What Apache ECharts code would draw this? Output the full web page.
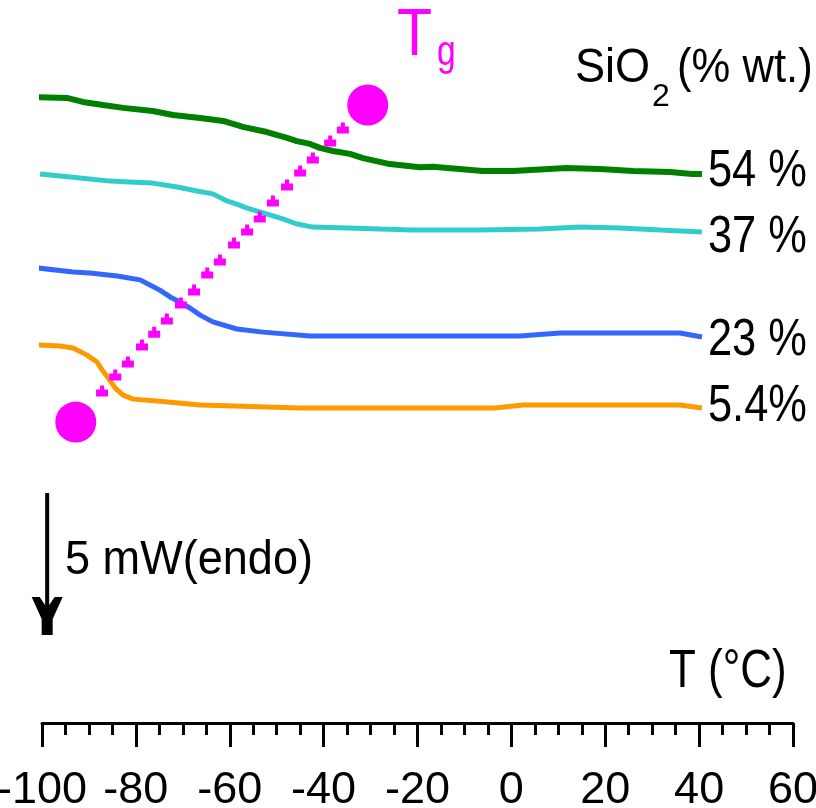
<!DOCTYPE html>
<html>
<head>
<meta charset="utf-8">
<script src="https://cdn.jsdelivr.net/npm/echarts@6/dist/echarts.min.js"></script>
<style>
html,body{margin:0;padding:0;background:#fff;}
#chart{width:816px;height:808px;}
</style>
</head>
<body>
<div id="chart"></div>
<script>
// ---- Data (T in °C, heat flow in mW, arbitrary vertical offsets) ----
const traceNames = ['54 %', '37 %', '23 %', '5.4%'];

const tGreen = [-101.1,-94.7,-91.3,-87.0,-82.7,-76.4,-72.1,-66.3,-61.4,-57.2,-52.1,-47.8,-45.7,-42.9,-40.8,-38.0,-34.4,-31.6,-25.9,-19.5,-16.7,-6.1,0.3,11.8,18.9,25.9,33.8,38.5,40.6];
const hGreen = [22.05,22.02,21.88,21.77,21.67,21.56,21.42,21.31,21.21,21.00,20.82,20.61,20.50,20.40,20.26,20.15,20.05,19.90,19.69,19.58,19.60,19.45,19.45,19.55,19.52,19.45,19.41,19.34,19.34];

const tCyan = [-100.4,-93.4,-85.5,-81.3,-76.4,-71.2,-67.0,-63.6,-60.6,-58.5,-56.3,-52.9,-48.7,-45.7,-42.3,-35.0,-28.0,-21.0,-6.7,6.1,14.6,23.1,31.7,40.6];
const hCyan = [19.34,19.23,19.09,19.06,19.02,18.88,18.74,18.64,18.39,18.28,18.14,17.97,17.76,17.58,17.47,17.44,17.40,17.37,17.37,17.40,17.47,17.44,17.37,17.30];

const tBlue = [-100.9,-93.4,-89.8,-84.0,-79.1,-77.0,-74.9,-72.7,-70.6,-68.5,-66.3,-63.6,-58.5,-52.9,-42.9,-23.7,-8.8,1.8,10.4,23.1,35.9,40.6];
const hBlue = [16.03,15.89,15.85,15.75,15.61,15.43,15.25,15.01,14.83,14.62,14.37,14.13,13.88,13.77,13.63,13.63,13.63,13.63,13.74,13.74,13.74,13.60];

const tOrange = [-100.9,-96.2,-93.4,-90.4,-88.3,-87.2,-85.9,-84.4,-82.7,-80.6,-75.5,-66.3,-52.1,-45.0,-23.7,-3.5,2.5,18.9,35.9,40.6];
const hOrange = [13.32,13.28,13.21,12.96,12.72,12.44,12.15,11.80,11.55,11.41,11.34,11.20,11.13,11.10,11.10,11.10,11.20,11.20,11.20,11.10];

// Tg construction line (dotted markers) and end dots
const tTgLine = [-87.2,-84.4,-81.7,-78.7,-76.1,-73.4,-70.4,-67.6,-64.8,-62.1,-59.1,-56.3,-53.6,-50.8,-47.8,-45.0,-42.3,-38.6,-35.9];
const hTgLine = [11.70,12.26,12.72,13.32,13.77,14.23,14.80,15.25,15.85,16.31,16.91,17.37,17.83,18.39,18.95,19.45,19.90,20.50,20.96];
const tTgDots = [-92.8,-30.6];
const hTgDots = [10.60,21.77];

// 5 mW scale arrow
const arrowT = -98.9;
const arrowTop = 8.1, arrowBottom = 3.1;

// Axis
const xMin = -100, xMax = 60, xStep = 20;
const yMin = 0, yMax = 25.4;

const zip = (a, b) => a.map((v, i) => [v, b[i]]);

const FONT = "'Liberation Sans', Arial, sans-serif";

const traces = [
  { name: traceNames[0], t: tGreen, h: hGreen, color: '#007f00', width: 6, dy: -2 },
  { name: traceNames[1], t: tCyan, h: hCyan, color: '#33cccc', width: 5, dy: 6 },
  { name: traceNames[2], t: tBlue, h: hBlue, color: '#3366ff', width: 5, dy: 4 },
  { name: traceNames[3], t: tOrange, h: hOrange, color: '#ff9900', width: 5, dy: -1 }
];

function txt(id, text, x, y, size, color, sx) {
  return { type: 'text', id: id, x: x, y: y, scaleX: sx, z: 10, silent: true,
    style: { text: text, x: 0, y: 0, align: 'left', textAlign: 'left',
      verticalAlign: 'middle', textVerticalAlign: 'middle',
      font: size + 'px ' + FONT, fill: color } };
}

const chart = echarts.init(document.getElementById('chart'), null, { renderer: 'canvas' });
chart.setOption({
  animation: false,
  backgroundColor: '#fff',
  grid: { left: 42, right: 23, top: 2, bottom: 85, containLabel: false, outerBoundsMode: 'none' },
  xAxis: {
    type: 'value', min: xMin, max: xMax, interval: xStep,
    axisLine: { show: true, onZero: false, lineStyle: { color: '#000', width: 3 } },
    axisTick: { show: true, length: 24, lineStyle: { color: '#000', width: 3 } },
    minorTick: { show: true, splitNumber: 4, length: 12, lineStyle: { color: '#000', width: 3 } },
    splitLine: { show: false },
    axisLabel: { color: '#000', fontSize: 45, fontFamily: FONT, margin: 45 }
  },
  yAxis: { type: 'value', min: yMin, max: yMax, show: false },
  graphic: [
    txt('tT', 'T', 397, 37, 66, '#ff00ff', 0.87),
    txt('tg', 'g', 437, 53, 42, '#ff00ff', 0.8),
    txt('s1', 'SiO', 575, 68, 49, '#000', 0.92),
    txt('s2', '2', 652, 97, 32, '#000', 1),
    txt('s3', '(% wt.)', 677, 68, 49, '#000', 0.89),
    txt('mw', '5 mW(endo)', 65, 560, 49, '#000', 0.92),
    txt('tc', 'T (°C)', 669, 672, 53, '#000', 0.83)
  ],
  series: traces.map(s => ({
    type: 'line', name: s.name, data: zip(s.t, s.h), symbol: 'none', clip: false,
    lineStyle: { color: s.color, width: s.width }, z: 2, silent: true
  })).concat([
    {
      type: 'scatter', name: 'Tg line', data: zip(tTgLine, hTgLine), z: 5, silent: true,
      symbol: 'path://M0,4 L4,4 L4,0 L8,0 L8,4 L12,4 L12,11 L0,11 Z', symbolSize: [12, 11],
      itemStyle: { color: '#ff00ff', opacity: 1 }
    },
    {
      type: 'scatter', name: 'Tg', data: zip(tTgDots, hTgDots), z: 6, silent: true,
      symbol: 'circle', symbolSize: 41, itemStyle: { color: '#ff00ff', opacity: 1 }
    },
    {
      type: 'line', name: 'scale', data: [[arrowT, arrowTop], [arrowT, arrowBottom + 0.5]],
      symbol: 'none', clip: false, lineStyle: { color: '#000', width: 4 }, z: 3, silent: true
    },
    {
      type: 'scatter', name: 'arrowhead', data: [[arrowT, arrowBottom]], z: 3, silent: true, clip: false,
      symbol: 'path://M0,0 L8,0 L15.5,11 L23,0 L31,0 L21,22 L21,38 L10,38 L10,22 Z',
      symbolSize: [31, 38], symbolOffset: [0, -19], itemStyle: { color: '#000', opacity: 1 }
    }
  ])
});

// End labels placed at the end of each trace via the chart's own coordinate system
const endLabels = traces.map((s, i) => {
  const n = s.t.length - 1;
  const p = chart.convertToPixel({ gridIndex: 0 }, [s.t[n], s.h[n]]);
  return txt('end' + i, s.name, p[0] + 6, p[1] + s.dy, 52, '#000', 0.835);
});
chart.setOption({ graphic: endLabels });
</script>
</body>
</html>
